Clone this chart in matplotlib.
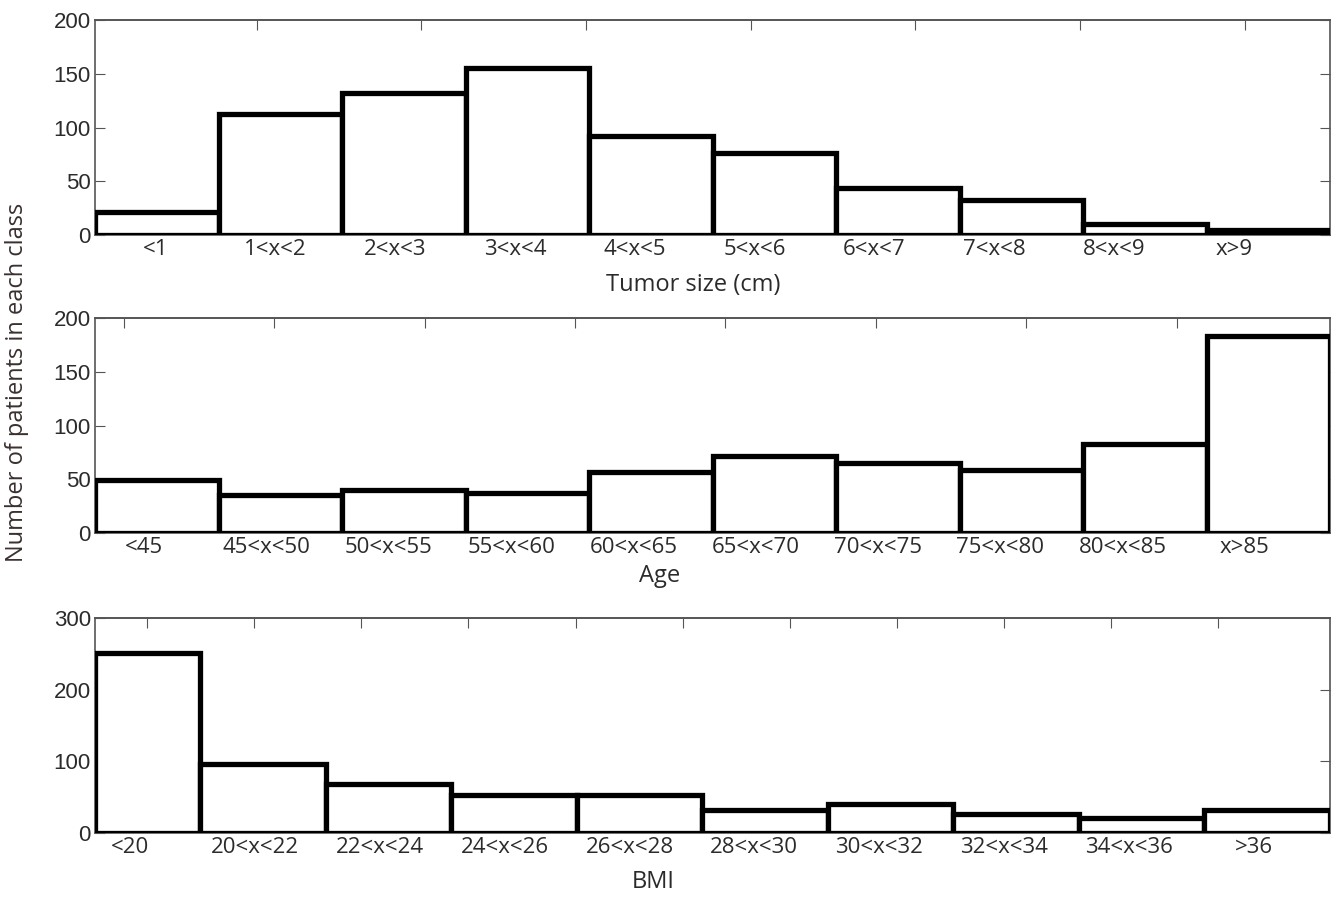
import matplotlib.pyplot as plt
import numpy as np

tumor_labels = ['<1', '1<x<2', '2<x<3', '3<x<4', '4<x<5', '5<x<6', '6<x<7', '7<x<8', '8<x<9', 'x>9']
tumor_counts = [21, 113, 132, 155, 92, 76, 44, 33, 10, 5]

age_labels = ['<45', '45<x<50', '50<x<55', '55<x<60', '60<x<65', '65<x<70', '70<x<75', '75<x<80', '80<x<85', 'x>85']
age_counts = [49, 35, 40, 37, 57, 72, 65, 59, 83, 183]

bmi_labels = ['<20', '20<x<22', '22<x<24', '24<x<26', '26<x<28', '28<x<30', '30<x<32', '32<x<34', '34<x<36', '>36']
bmi_counts = [251, 96, 68, 53, 53, 32, 40, 27, 21, 32]

W, H = 1337, 898
fig = plt.figure(figsize=(W / 100, H / 100), dpi=100)

axcol = '#555555'
txtcol = '#2b2b2b'
lab_font = ['Open Sans', 'DejaVu Sans']
num_font = ['Liberation Sans', 'DejaVu Sans']

# panel settings: (top px, xlim, top tick start/step, label step/offset, ylim, yticks, xlabel, xlabel pos)
panels = [
    (tumor_labels, tumor_counts, 20, (-0.5, 9.5), (0.81, 4 / 3), (0.97, -0.01),
     200, [0, 50, 100, 150, 200], 'Tumor size (cm)', (693, 285)),
    (age_labels, age_counts, 318, (-0.5, 9.5), (-0.265, 1.2175), (0.99, -0.1),
     200, [0, 50, 100, 150, 200], 'Age', (660, 576)),
    (bmi_labels, bmi_counts, 618, (-0.337, 9.5), (0.077, 0.8534), (0.995, -0.06),
     300, [0, 100, 200, 300], 'BMI', (653, 882)),
]

for labels, counts, top, xlim, tt, ls, ymax, yt, xlab, xlpos in panels:
    left, right = 95, 1330
    ax = fig.add_axes([left / W, 1 - (top + 215) / H, (right - left) / W, 215 / H])
    n = len(counts)
    # bin edges; the first bin starts at the axis left limit
    edges = np.concatenate([[xlim[0]], np.arange(n) + 0.5])
    ax.bar(edges[:-1], counts, width=np.diff(edges), align='edge',
           facecolor='white', edgecolor='black', linewidth=3.8, zorder=3)
    ax.set_xlim(*xlim)
    ax.set_ylim(0, ymax)

    for s in ax.spines.values():
        s.set_color(axcol)
        s.set_linewidth(1.2)

    ax.set_yticks(yt)
    ax.tick_params(axis='y', direction='in', left=True, right=True, length=7,
                   color=axcol, labelsize=16, labelcolor=txtcol, pad=3)
    for t in ax.get_yticklabels():
        t.set_family(num_font)

    ax.set_xticks(np.arange(n) * ls[0] + ls[1])
    ax.set_xticklabels(labels, fontsize=16, color=txtcol, family=lab_font)
    ax.tick_params(axis='x', length=0, pad=3)

    sec = ax.secondary_xaxis('top')
    sec.set_xticks(np.arange(tt[0], xlim[1] - 0.05, tt[1]))
    sec.tick_params(axis='x', direction='in', length=7, color=axcol, labeltop=False)
    sec.spines['top'].set_color(axcol)
    sec.spines['top'].set_linewidth(1.2)

    fig.text(xlpos[0] / W, 1 - xlpos[1] / H, xlab, ha='center', va='center',
             fontsize=17, color=txtcol, family=lab_font)

fig.text(17 / W, 1 - 382 / H, 'Number of patients in each class', rotation=90,
         ha='center', va='center', fontsize=17, color='#3a3030', family=lab_font)

fig.savefig('out.png', dpi=100)
